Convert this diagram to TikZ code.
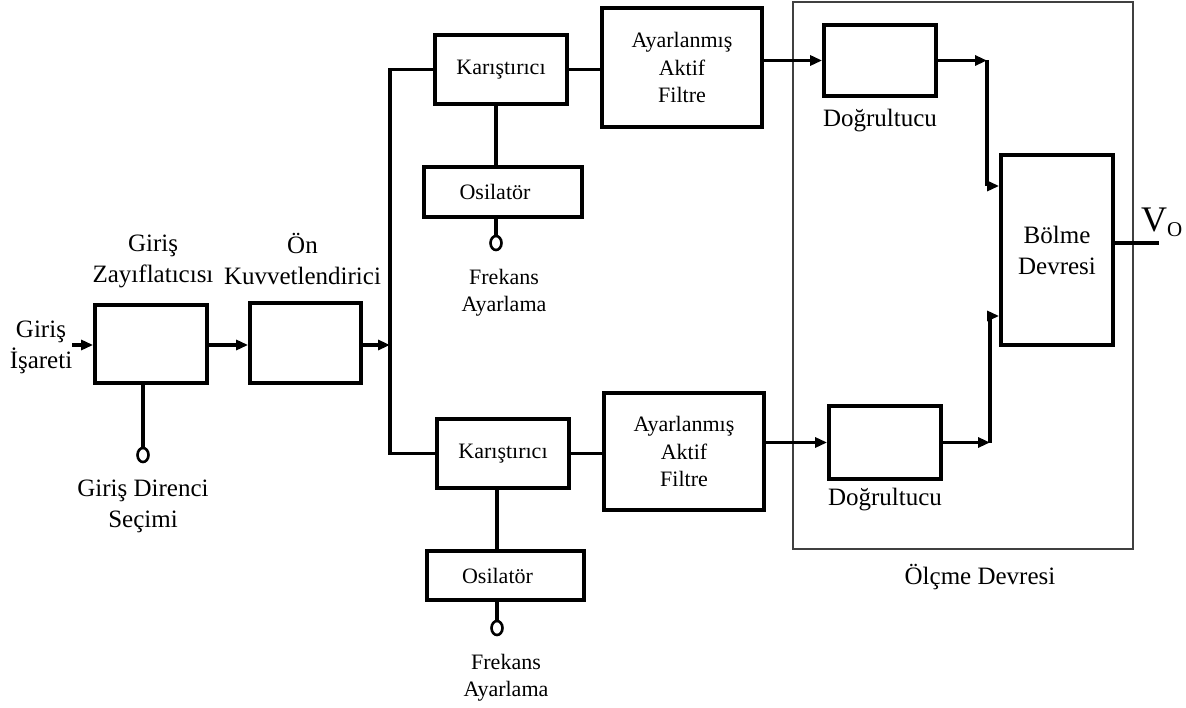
\documentclass[tikz,border=0pt]{standalone}
\usepackage{fontspec}
\setmainfont{Liberation Serif}
\usetikzlibrary{arrows.meta,shapes.geometric}
\begin{document}
\begin{tikzpicture}[x=1pt,y=-1pt,
  blk/.style={draw,line width=3.8pt,rectangle,inner sep=0pt,align=center},
  bigtxt/.style={font=\fontsize{25}{31}\selectfont,align=center,inner sep=0pt},
  smltxt/.style={font=\fontsize{22}{27.5}\selectfont,align=center,inner sep=0pt},
  wire/.style={line width=3.5pt},
  arr/.style={wire,-{Triangle[length=12pt,width=10pt]}},
  knob/.style={draw,ellipse,line width=2.6pt,minimum width=11pt,minimum height=14pt,inner sep=0pt},
  frame/.style={draw=black!75,line width=1.4pt,rectangle,inner sep=0pt}
]
\useasboundingbox (0,0) rectangle (1186,708);

% measurement frame
\node[frame,minimum width=340pt,minimum height=547pt] (olc) at (963,275.5) {};
\node[bigtxt] (olct) at (980,577) {Ölçme Devresi};

% left chain
\node[blk,minimum width=112pt,minimum height=78pt] (zay) at (151,344) {};
\node[blk,minimum width=111pt,minimum height=80pt] (on) at (305.5,343) {};
\node[bigtxt] (zayt) at (153,261) {Giriş\\Zayıflatıcısı};
\node[bigtxt] (ont) at (302.5,259) {Ön\\Kuvvetlendirici};
\node[bigtxt] (gir) at (41,347) {Giriş\\İşareti};
\node[knob] (kz) at (143,455) {};
\node[bigtxt] (kzt) at (143,506) {Giriş Direnci\\Seçimi};

% upper branch
\node[blk,minimum width=132pt,minimum height=69pt,smltxt] (k1) at (501,69.5) {Karıştırıcı};
\node[blk,minimum width=160pt,minimum height=119pt,smltxt] (f1) at (682,67.5) {Ayarlanmış\\Aktif\\Filtre};
\node[blk,minimum width=158pt,minimum height=50pt,smltxt] (o1) at (503,192) {\hspace*{-16pt}Osilatör};
\node[knob] (c1) at (496,243) {};
\node[smltxt] (c1t) at (504,292.5) {Frekans\\Ayarlama};

% lower branch
\node[blk,minimum width=132pt,minimum height=69pt,smltxt] (k2) at (503,453.5) {Karıştırıcı};
\node[blk,minimum width=160pt,minimum height=117pt,smltxt] (f2) at (684,451.5) {Ayarlanmış\\Aktif\\Filtre};
\node[blk,minimum width=157pt,minimum height=49pt,smltxt] (o2) at (505.5,575.5) {\hspace*{-16pt}Osilatör};
\node[knob] (c2) at (497,628) {};
\node[smltxt] (c2t) at (506,677.5) {Frekans\\Ayarlama};

% rectifiers and divider
\node[blk,minimum width=112pt,minimum height=71pt] (d1) at (880,60.5) {};
\node[bigtxt] (d1t) at (880,121) {Doğrultucu};
\node[blk,minimum width=112pt,minimum height=73pt] (d2) at (885,442.5) {};
\node[bigtxt] (d2t) at (885,500) {Doğrultucu};
\node[blk,minimum width=112pt,minimum height=190pt,bigtxt] (bol) at (1057,250) {Bölme\\Devresi};

% coordinates
\coordinate (in) at (72,345);
\coordinate (j) at (390,345);
\coordinate (r1) at (987,60.5);
\coordinate (r2) at (987,186);
\coordinate (r3) at (990,442.5);
\coordinate (r4) at (990,316);
\coordinate (vo) at (1159,243);

% connectors
\draw[arr] (in) -- (in -| zay.west);
\draw[arr] (zay.east |- in) -- (in -| on.west);
\draw[arr] (on.east |- j) -- (j);
\draw[wire] (k1.west) -| (j) |- (k2.west);
\draw[wire] (k1.east) -- (f1.west |- k1.east);
\draw[wire] (k2.east) -- (f2.west |- k2.east);
\draw[wire] (k1.south -| c1) -- (o1.north -| c1);
\draw[wire] (o1.south -| c1) -- (c1.north);
\draw[wire] (k2.south -| c2) -- (o2.north -| c2);
\draw[wire] (o2.south -| c2) -- (c2.north);
\draw[wire] (zay.south -| kz) -- (kz.north);
\draw[arr] (f1.east |- d1) -- (d1.west);
\draw[arr] (f2.east |- d2) -- (d2.west);
\draw[arr] (d1.east) -- (r1);
\draw[wire] (r1) -- (r2);
\draw[arr] (r2) -- (r2 -| bol.west);
\draw[arr] (d2.east) -- (r3);
\draw[wire] (r3) -- (r4);
\draw[arr] (r4) -- (r4 -| bol.west);
\draw[wire] (bol.east |- vo) -- (vo);
\node[anchor=base west,inner sep=0pt,font=\fontsize{36}{36}\selectfont] (vot) at (1141,232) {V\raisebox{-5pt}{\fontsize{21}{21}\selectfont O}};
\end{tikzpicture}
\end{document}
